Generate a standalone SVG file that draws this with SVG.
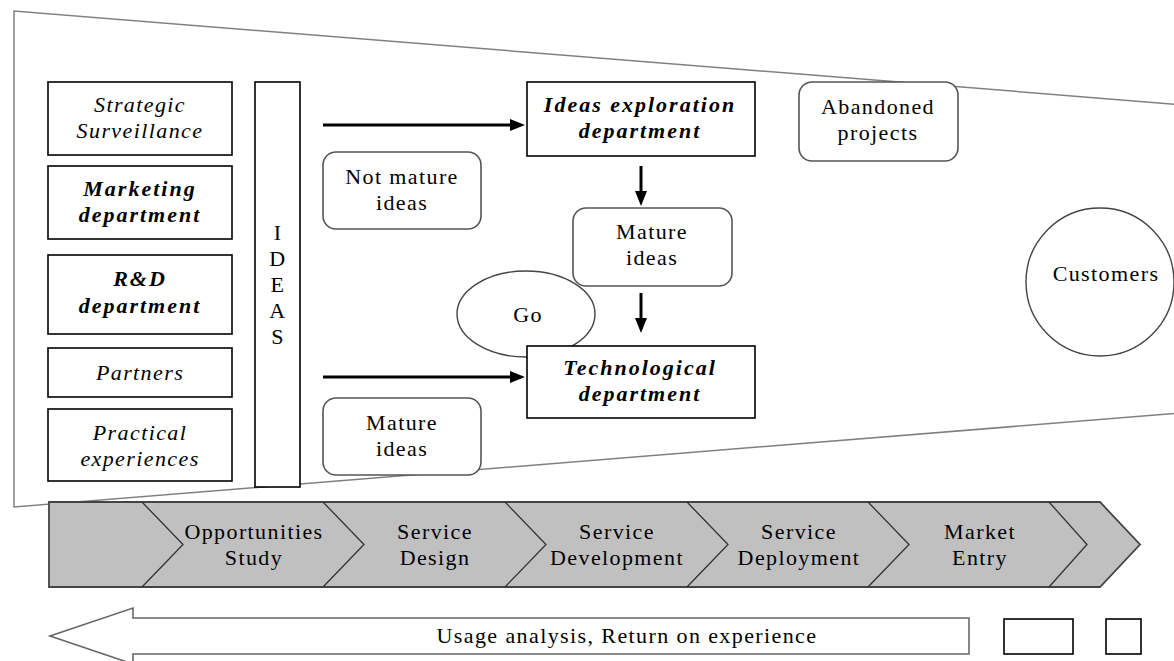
<svg xmlns="http://www.w3.org/2000/svg" width="1174" height="661" viewBox="0 0 1174 661">
<defs>
<style>
text{font-family:'Liberation Serif','DejaVu Serif',serif;font-size:22px;letter-spacing:1.4px;fill:#000;text-anchor:middle}
.it{font-style:italic}
.bi{font-style:italic;font-weight:bold;letter-spacing:2px}
.box{fill:#fff;stroke:#000;stroke-width:1.6}
.rbox{fill:#fff;stroke:#555;stroke-width:1.6}
.funnel{fill:none;stroke:#808080;stroke-width:1.5}
.conn{stroke:#000;stroke-width:3;fill:none}
.band{fill:#c0c0c0;stroke:#444;stroke-width:1.8}
.chev{fill:none;stroke:#333;stroke-width:1.3}
</style>
<marker id="ah" markerWidth="15" markerHeight="12" refX="1" refY="6" orient="auto" markerUnits="userSpaceOnUse" viewBox="0 0 15 12">
<path d="M0,0 L15,6 L0,12 Z" fill="#000"/>
</marker>
</defs>
<rect width="1174" height="661" fill="#fff"/>
<g id="funnel">
<polyline class="funnel" points="1176,104.3 14,11 14,507 1176,413.4"/>
</g>
<g id="strategic"><rect class="box" x="48" y="82" width="184" height="73"/><text class="it" x="140" y="112">Strategic</text><text class="it" x="140" y="138">Surveillance</text></g>
<g id="marketing"><rect class="box" x="48" y="166" width="184" height="73"/><text class="bi" x="140" y="196">Marketing</text><text class="bi" x="140" y="222">department</text></g>
<g id="rd"><rect class="box" x="48" y="255" width="184" height="79"/><text class="bi" x="140" y="286">R&amp;D</text><text class="bi" x="140" y="313">department</text></g>
<g id="partners"><rect class="box" x="48" y="348" width="184" height="49"/><text class="it" x="140" y="380">Partners</text></g>
<g id="practical"><rect class="box" x="48" y="409" width="184" height="72"/><text class="it" x="140" y="440">Practical</text><text class="it" x="140" y="466">experiences</text></g>
<g id="ideas"><rect class="box" x="255" y="82" width="45" height="405"/>
<text x="278" y="240">I</text><text x="278" y="266">D</text><text x="278" y="292">E</text><text x="278" y="318">A</text><text x="278" y="344">S</text></g>
<g id="ideas-exploration"><rect class="box" x="527" y="82" width="228" height="74"/><text class="bi" x="640" y="112">Ideas exploration</text><text class="bi" x="640" y="138">department</text></g>
<g id="not-mature"><rect class="rbox" x="323" y="152" width="158" height="77" rx="13"/><text x="402" y="184">Not mature</text><text x="402" y="210">ideas</text></g>
<g id="mature-mid"><rect class="rbox" x="573" y="208" width="159" height="78" rx="13"/><text x="652" y="239">Mature</text><text x="652" y="265">ideas</text></g>
<g id="go"><ellipse cx="526" cy="314" rx="69" ry="43" fill="#fff" stroke="#444" stroke-width="1.4"/><text x="528" y="322">Go</text></g>
<g id="technological"><rect class="box" x="527" y="346" width="228" height="72"/><text class="bi" x="640" y="375">Technological</text><text class="bi" x="640" y="401">department</text></g>
<g id="mature-bottom"><rect class="rbox" x="323" y="398" width="158" height="77" rx="13"/><text x="402" y="430">Mature</text><text x="402" y="456">ideas</text></g>
<g id="abandoned"><rect class="rbox" x="799" y="82" width="159" height="79" rx="13"/><text x="878" y="114">Abandoned</text><text x="878" y="140">projects</text></g>
<g id="customers"><circle cx="1100" cy="282" r="74" fill="#fff" stroke="#444" stroke-width="1.4"/><text x="1106" y="281">Customers</text></g>
<g id="connectors">
<line class="conn" x1="323" y1="125" x2="511" y2="125" marker-end="url(#ah)"/>
<line class="conn" x1="323" y1="377" x2="511" y2="377" marker-end="url(#ah)"/>
<line class="conn" x1="641" y1="166" x2="641" y2="192" marker-end="url(#ah)"/>
<line class="conn" x1="641" y1="293" x2="641" y2="319" marker-end="url(#ah)"/>
</g>
<g id="process">
<polygon class="band" points="49,502 1100,502 1140,544.5 1100,587 49,587"/>
<polyline class="chev" points="142,502 183,544.5 142,587"/>
<polyline class="chev" points="323,502 364,544.5 323,587"/>
<polyline class="chev" points="505,502 546,544.5 505,587"/>
<polyline class="chev" points="687,502 728,544.5 687,587"/>
<polyline class="chev" points="868,502 909,544.5 868,587"/>
<polyline class="chev" points="1049,502 1087,544.5 1049,587"/>
<text x="254" y="539">Opportunities</text><text x="254" y="565">Study</text>
<text x="435" y="539">Service</text><text x="435" y="565">Design</text>
<text x="617" y="539">Service</text><text x="617" y="565">Development</text>
<text x="799" y="539">Service</text><text x="799" y="565">Deployment</text>
<text x="980" y="539">Market</text><text x="980" y="565">Entry</text>
</g>
<g id="feedback">
<polygon points="969,618 133,618 133,608 50,636 133,664 133,654 969,654" fill="#fff" stroke="#666" stroke-width="1.6"/>
<text x="627" y="643">Usage analysis, Return on experience</text>
</g>
<g id="box-a"><rect class="box" x="1004" y="619" width="69" height="35"/></g>
<g id="box-b"><rect class="box" x="1106" y="619" width="35" height="35"/></g>
</svg>
